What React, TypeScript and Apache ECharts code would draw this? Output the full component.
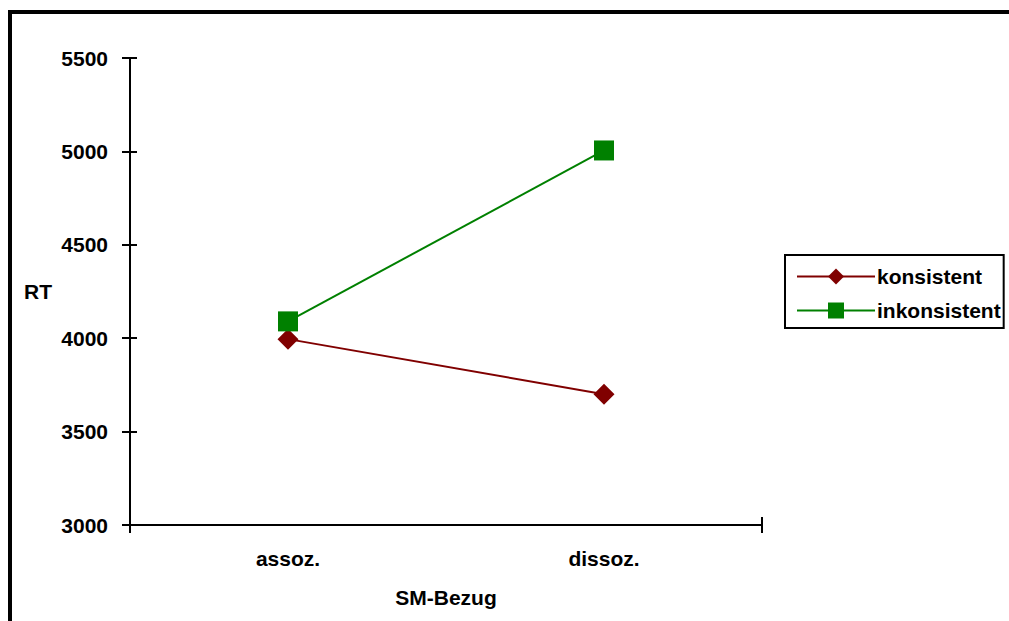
import React, { useEffect, useRef } from "react";
import * as echarts from "echarts";

const categories = ["assoz.", "dissoz."];
const konsistent = [3995, 3700];
const inkonsistent = [4090, 5005];
const yMin = 3000;
const yMax = 5500;
const yStep = 500;

const FONT = "'Liberation Sans', Arial, sans-serif";

export default function App() {
  const ref = useRef<HTMLDivElement>(null);

  useEffect(() => {
    document.body.style.margin = "0";
    const chart = echarts.init(ref.current!, null, { renderer: "svg" });
    const textBase = { fontFamily: FONT, fontWeight: "bold" as const, fontSize: 21, color: "#000" };
    const tickStyle = { color: "#000", width: 2 };

    const xCommon = {
      type: "category" as const,
      data: categories,
      boundaryGap: true,
      position: "bottom" as const,
    };
    const yCommon = {
      type: "value" as const,
      min: yMin,
      max: yMax,
      interval: yStep,
      position: "left" as const,
      splitLine: { show: false },
    };

    chart.setOption({
      animation: false,
      backgroundColor: "#fff",
      grid: { left: 130, right: 247, top: 58, bottom: 96, containLabel: false },
      graphic: [
        {
          type: "rect",
          shape: { x: 10, y: 12, width: 1200, height: 800 },
          style: { fill: "none", stroke: "#000", lineWidth: 4 },
          silent: true,
        },
      ],
      xAxis: [
        {
          ...xCommon,
          name: "SM-Bezug",
          nameLocation: "middle",
          nameGap: 62,
          nameTextStyle: textBase,
          axisLine: { onZero: false, lineStyle: { color: "#000", width: 2 } },
          axisTick: { show: true, length: 8, interval: (i: number) => i === 0, lineStyle: tickStyle },
          axisLabel: { ...textBase, margin: 23 },
        },
        {
          ...xCommon,
          axisLine: { show: false, onZero: false },
          axisTick: { show: true, inside: true, length: 8, interval: (i: number) => i === 0, lineStyle: tickStyle },
          axisLabel: { show: false },
        },
      ],
      yAxis: [
        {
          ...yCommon,
          name: "RT",
          nameLocation: "middle",
          nameRotate: 0,
          nameGap: 78,
          nameTextStyle: textBase,
          axisLine: { show: true, onZero: false, lineStyle: { color: "#000", width: 2 } },
          axisTick: { show: false },
          axisLabel: { ...textBase, margin: 22, formatter: (v: number) => String(v) },
        },
        {
          // tick marks crossing the axis line: shifted 7px into the plot, 15px long
          ...yCommon,
          offset: -7,
          axisLine: { show: false, onZero: false },
          axisTick: { show: true, length: 15, lineStyle: tickStyle },
          axisLabel: { show: false },
        },
      ],
      legend: {
        left: 785,
        top: 255,
        orient: "vertical",
        backgroundColor: "#fff",
        borderColor: "#000",
        borderWidth: 2,
        borderRadius: 0,
        padding: [11, 3, 7, 11],
        itemGap: 13,
        itemWidth: 78,
        itemHeight: 20,
        textStyle: { ...textBase, lineHeight: 20, padding: [0, 0, 0, -3] },
        data: ["konsistent", "inkonsistent"],
      },
      series: [
        {
          name: "konsistent",
          type: "line",
          data: konsistent,
          symbol: "diamond",
          symbolSize: 21,
          itemStyle: { color: "#800000" },
          lineStyle: { color: "#800000", width: 2 },
        },
        {
          name: "inkonsistent",
          type: "line",
          data: inkonsistent,
          symbol: "rect",
          symbolSize: 20,
          itemStyle: { color: "#008000" },
          lineStyle: { color: "#008000", width: 2 },
        },
      ],
    });
    return () => chart.dispose();
  }, []);

  return <div ref={ref} style={{ width: 1009, height: 621 }} />;
}
